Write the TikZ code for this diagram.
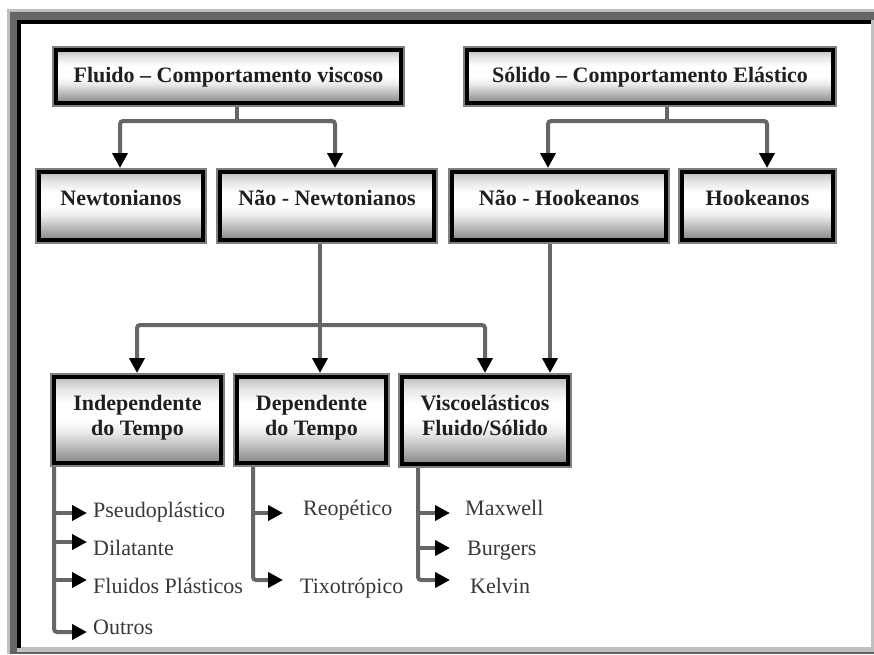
\documentclass[tikz,border=0pt]{standalone}
\usepackage{fontspec}
\setmainfont{Liberation Serif}
\usetikzlibrary{arrows.meta}
\pgfdeclareverticalshading{boxsh}{100bp}{color(0bp)=(black!48); color(25bp)=(black!48); color(33bp)=(black!30); color(43bp)=(black!8); color(50bp)=(white); color(60bp)=(white); color(68bp)=(black!10); color(75bp)=(black!26); color(100bp)=(black!26)}
\begin{document}
\begin{tikzpicture}[x=1pt,y=-1pt,
  box/.style={draw=black, line width=3.5pt, shading=boxsh,
    preaction={draw=black!50, line width=8pt},
    outer sep=4pt, inner sep=0pt,
    font=\fontsize{22}{25}\selectfont\bfseries, text=black!88},
  conn/.style={draw=black!60, line width=4pt, rounded corners=3pt},
  arr/.style={conn, -{Triangle[length=15pt,width=15pt,black]}},
  leaf/.style={inner sep=0pt, anchor=base west, font=\fontsize{22}{25}\selectfont, text=black!78}]
\useasboundingbox (0,0) rectangle (874,654);
% window frame
\fill[white] (0,0) rectangle (874,654);
\fill[black!25] (7,9) rectangle (874,654);
\fill[black!60] (10,12) rectangle (874,20);
\fill[black!60] (10,12) rectangle (17,654);
\fill[black!62] (10,652) rectangle (874,654);
\fill[black] (17,20) rectangle (871,24);
\fill[black] (17,20) rectangle (21,648);
\fill[white] (21,24) rectangle (871,647);
% boxes
\node[box, minimum width=345pt, minimum height=53pt] (fluido) at (228.5,76.5)
  {\raisebox{-5.5pt}[0pt][0pt]{Fluido – Comportamento viscoso}};
\node[box, minimum width=366pt, minimum height=53pt] (solido) at (650,76.5)
  {\raisebox{-5.5pt}[0pt][0pt]{Sólido – Comportamento Elástico}\hspace{13pt}};
\node[box, minimum width=164pt, minimum height=68pt] (newt) at (121,206)
  {\raisebox{1pt}[0pt][0pt]{Newtonianos}};
\node[box, minimum width=214pt, minimum height=68pt] (nnewt) at (327,206)
  {\raisebox{1pt}[0pt][0pt]{Não - Newtonianos}};
\node[box, minimum width=214pt, minimum height=68pt] (nhook) at (559,206)
  {\raisebox{1pt}[0pt][0pt]{Não - Hookeanos}\hspace{20pt}};
\node[box, minimum width=151pt, minimum height=68pt] (hook) at (757.5,206)
  {\raisebox{1pt}[0pt][0pt]{Hookeanos}};
\node[box, minimum width=167pt, minimum height=86pt] (indep) at (137.5,420)
  {\raisebox{-15pt}[0pt][0pt]{\begin{tabular}[b]{@{}c@{}}Independente\\do Tempo\end{tabular}}};
\node[box, minimum width=149pt, minimum height=86pt] (dep) at (311.5,420)
  {\raisebox{-15pt}[0pt][0pt]{\begin{tabular}[b]{@{}c@{}}Dependente\\do Tempo\end{tabular}}};
\node[box, minimum width=166pt, minimum height=87pt] (visco) at (485,420.5)
  {\raisebox{-15pt}[0pt][0pt]{\begin{tabular}[b]{@{}c@{}}Viscoelásticos\\Fluido/Sólido\end{tabular}}};
% connector coordinates
\coordinate (fj) at (237,121);
\coordinate (sj) at (667,121);
\coordinate (xNw) at (120,0);
\coordinate (xNn) at (335,0);
\coordinate (xNh) at (548,0);
\coordinate (xHk) at (767,0);
\coordinate (nj) at (320,325);
\coordinate (xId) at (137,0);
\coordinate (xVs) at (485,0);
\coordinate (xHv) at (550,0);
% top branches
\draw[conn] (fluido.south -| fj) -- (fj);
\draw[arr] (fj) -| (xNw |- newt.north);
\draw[arr] (fj) -| (xNn |- nnewt.north);
\draw[conn] (solido.south -| sj) -- (sj);
\draw[arr] (sj) -| (xNh |- nhook.north);
\draw[arr] (sj) -| (xHk |- hook.north);
% middle
\draw[arr] (nnewt.south -| nj) -- (nj |- dep.north);
\draw[arr] (nj) -| (xId |- indep.north);
\draw[arr] (nj) -| (xVs |- visco.north);
\draw[arr] (nhook.south -| xHv) -- (xHv |- visco.north);
% leaves: independente
\coordinate (iT) at (54,0);
\coordinate (tPs) at (87,513);
\coordinate (tDi) at (87,542);
\coordinate (tFP) at (87,580);
\coordinate (tOu) at (87,632);
\draw[arr] (indep.south -| iT) |- (tOu);
\draw[arr] (iT |- tPs) -- (tPs);
\draw[arr] (iT |- tDi) -- (tDi);
\draw[arr] (iT |- tFP) -- (tFP);
\node[leaf] (lPs) at (93,517) {Pseudoplástico};
\node[leaf] (lDi) at (93,555.5) {Dilatante};
\node[leaf] (lFP) at (93,593.5) {Fluidos Plásticos};
\node[leaf] (lOu) at (93,634) {Outros};
% leaves: dependente
\coordinate (dT) at (253,0);
\coordinate (tRe) at (283,513);
\coordinate (tTi) at (283,580);
\draw[arr] (dep.south -| dT) |- (tTi);
\draw[arr] (dT |- tRe) -- (tRe);
\node[leaf] (lRe) at (303,515) {Reopético};
\node[leaf] (lTi) at (300,593) {Tixotrópico};
% leaves: viscoelasticos
\coordinate (vT) at (418,0);
\coordinate (tMa) at (450,513);
\coordinate (tBu) at (450,548);
\coordinate (tKe) at (450,580);
\draw[arr] (visco.south -| vT) |- (tKe);
\draw[arr] (vT |- tMa) -- (tMa);
\draw[arr] (vT |- tBu) -- (tBu);
\node[leaf] (lMa) at (465,515) {Maxwell};
\node[leaf] (lBu) at (467,555) {Burgers};
\node[leaf] (lKe) at (470,593) {Kelvin};
\end{tikzpicture}
\end{document}
